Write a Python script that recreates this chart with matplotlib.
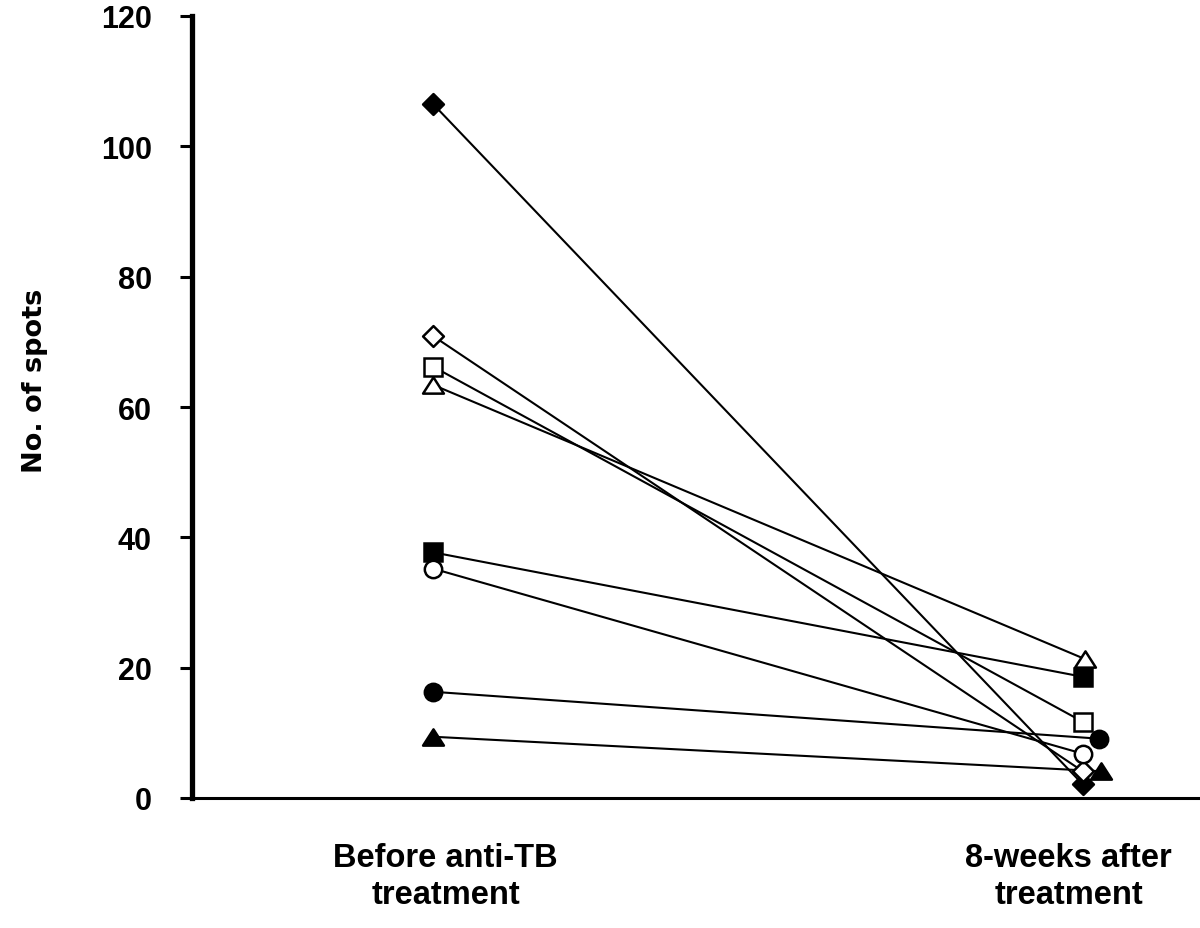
import matplotlib
matplotlib.use("Agg")
import matplotlib.pyplot as plt
from matplotlib.path import Path
from matplotlib.markers import MarkerStyle

plt.rcParams['font.family'] = ['Liberation Sans', 'DejaVu Sans']

# Data
groups = ["Before anti-TB\ntreatment", "8-weeks after\ntreatment"]
before = [106.5, 70.9, 66.2, 63.4, 37.7, 35.2, 16.3, 9.4]
after = [2.1, 4.1, 11.7, 21.3, 18.6, 6.8, 9.1, 4.1]
yticks = [0, 20, 40, 60, 80, 100, 120]

# Styling per subject
tri_path = Path([(0, 0.78), (-1, -0.78), (1, -0.78), (0, 0.78)],
                [Path.MOVETO, Path.LINETO, Path.LINETO, Path.CLOSEPOLY])
dia_path = Path([(0, 1), (1, 0), (0, -1), (-1, 0), (0, 1)],
                [Path.MOVETO, Path.LINETO, Path.LINETO, Path.LINETO, Path.CLOSEPOLY])
TRI = MarkerStyle(tri_path, joinstyle='miter')
DIA = MarkerStyle(dia_path, joinstyle='miter')
SQ = MarkerStyle('s', joinstyle='miter')
CI = MarkerStyle('o')
markers = [DIA, DIA, SQ, TRI, SQ, CI, CI, TRI]
fills = ['black', 'white', 'white', 'white', 'black', 'white', 'black', 'black']
sizes = [15.0, 15.0, 12.3, 15.0, 12.3, 12.5, 12.5, 15.0]
after_dx = [0.02, 0.02, 0.02, 0.024, 0.02, 0.02, 0.046, 0.049]

fig = plt.figure(figsize=(12, 9.29), dpi=100)
ax = fig.add_axes([192/1200, (929-799)/929, 1 - 192/1200, (799-17)/929])

for b, a, m, fc, ms, dx in zip(before, after, markers, fills, sizes, after_dx):
    ax.plot([0, 1 + dx], [b, a], color='black', lw=1.5, zorder=2)
    ax.plot([0, 1 + dx], [b, a], linestyle='none', marker=m, ms=ms,
            mfc=fc, mec='black', mew=1.8, zorder=3)

ax.set_ylim(0, 120)
ax.set_xlim((192-433)/637, (1200-433)/637)
ax.set_yticks(yticks)
ax.set_yticklabels([str(v) for v in yticks], fontsize=22, fontweight='bold')
ax.set_xticks([0.02, 0.998])
ax.set_xticklabels(groups, fontsize=23.5, fontweight='bold', linespacing=1.25)
ax.tick_params(axis='y', direction='out', length=9, width=2.2, pad=20)
ax.tick_params(axis='x', length=0, pad=32)

for s in ['top', 'right']:
    ax.spines[s].set_visible(False)
ax.spines['left'].set_linewidth(3.8)
ax.spines['bottom'].set_linewidth(2.2)

ax.set_ylabel("No. of spots", fontsize=19.5, fontweight='bold',
              family=['DejaVu Sans'])
ax.yaxis.set_label_coords((48-192)/1008, (799-381)/782)

fig.savefig("out.png", dpi=100)
